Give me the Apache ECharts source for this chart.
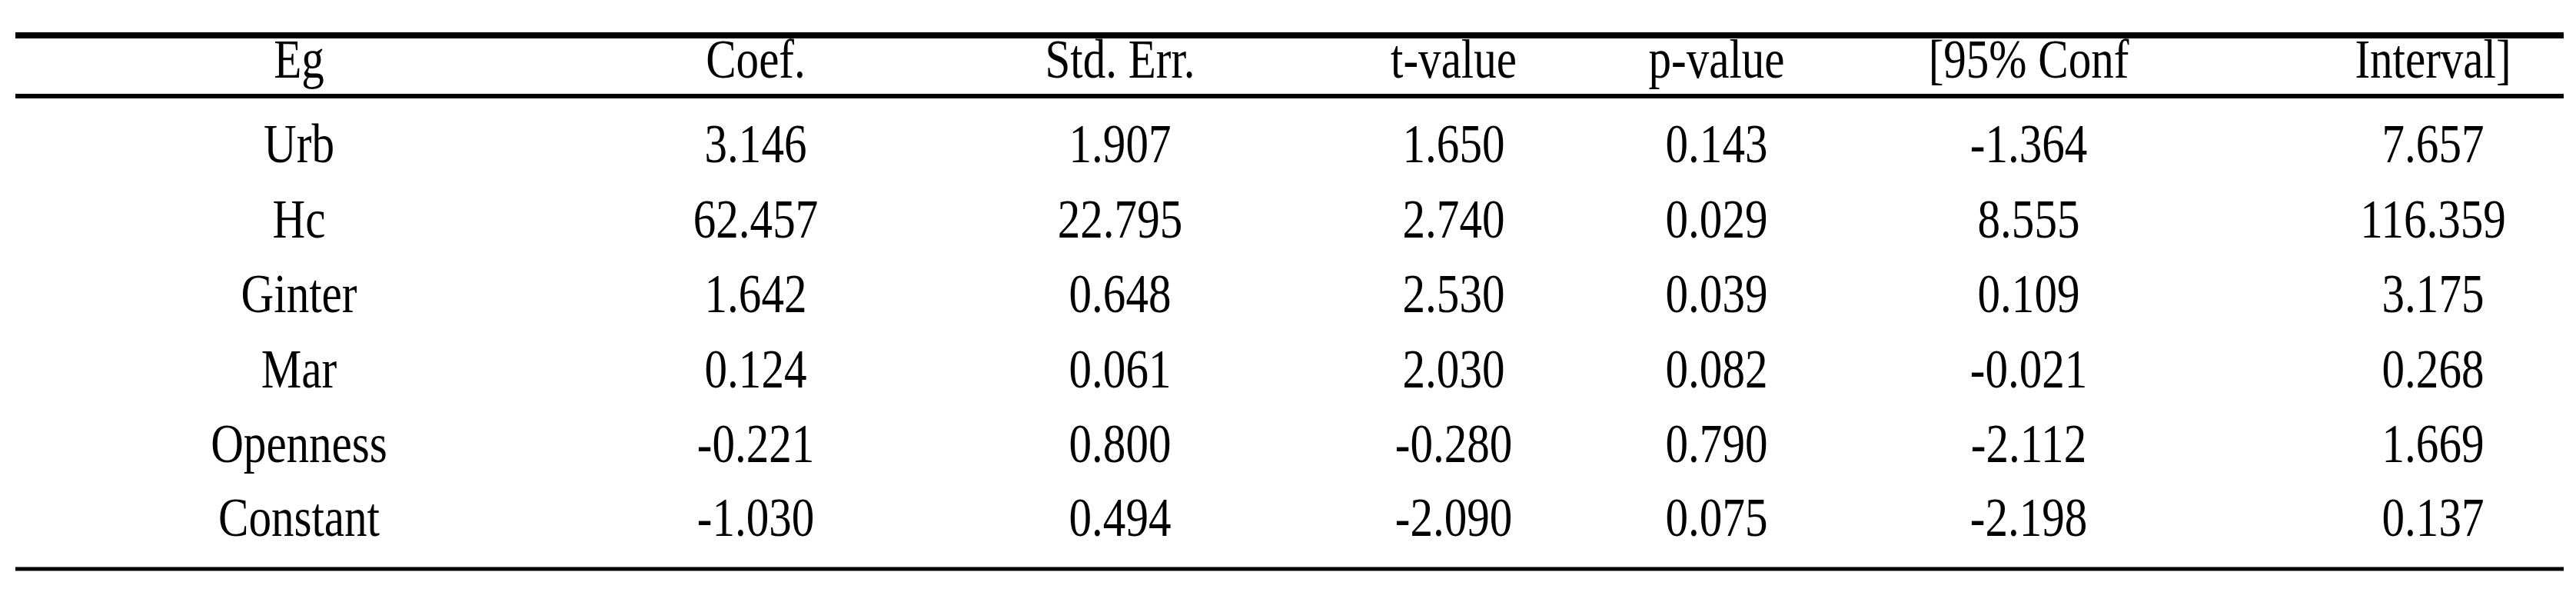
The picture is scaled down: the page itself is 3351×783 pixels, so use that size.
<!DOCTYPE html>
<html><head><meta charset="utf-8">
<script src="https://cdn.jsdelivr.net/npm/echarts@6/dist/echarts.min.js"></script>
<style>html,body{margin:0;padding:0;background:#fff}#main{width:3351px;height:783px}</style>
</head><body><div id="main"></div>
<script>
// table contents
var headers = ['Eg', 'Coef.', 'Std. Err.', 't-value', 'p-value', '[95% Conf', 'Interval]'];
var variables = ['Urb', 'Hc', 'Ginter', 'Mar', 'Openness', 'Constant'];
var coef = ['3.146', '62.457', '1.642', '0.124', '-0.221', '-1.030'];
var stdErr = ['1.907', '22.795', '0.648', '0.061', '0.800', '0.494'];
var tValue = ['1.650', '2.740', '2.530', '2.030', '-0.280', '-2.090'];
var pValue = ['0.143', '0.029', '0.039', '0.082', '0.790', '0.075'];
var confLow = ['-1.364', '8.555', '0.109', '-0.021', '-2.112', '-2.198'];
var confHigh = ['7.657', '116.359', '3.175', '0.268', '1.669', '0.137'];

var chart = echarts.init(document.getElementById('main'));
var colX = [389, 983, 1457, 1891, 2233, 2639, 3165];
var rowY = [82, 192, 290, 387, 485, 582, 678];
var font = '72px "Liberation Serif", serif';
var elements = [];

function addText(x, y, s) {
    // reference font is a narrow Times, so squeeze it a bit
    elements.push({type: 'text', x: x, y: y, scaleX: 0.82,
        style: {text: s, font: font, fill: '#000', align: 'center', verticalAlign: 'middle'}});
}
headers.forEach(function (h, i) { addText(colX[i], rowY[0], h); });
var cols = [variables, coef, stdErr, tValue, pValue, confLow, confHigh];
cols.forEach(function (col, c) {
    col.forEach(function (v, r) { addText(colX[c], rowY[r + 1], v); });
});
// rules
[[46, 8], [125, 6], [740, 5]].forEach(function (l) {
    elements.push({type: 'line', shape: {x1: 20, y1: l[0], x2: 3335, y2: l[0]},
        style: {stroke: '#000', lineWidth: l[1]}});
});

chart.setOption({backgroundColor: '#fff', graphic: {elements: elements}});
</script></body></html>
